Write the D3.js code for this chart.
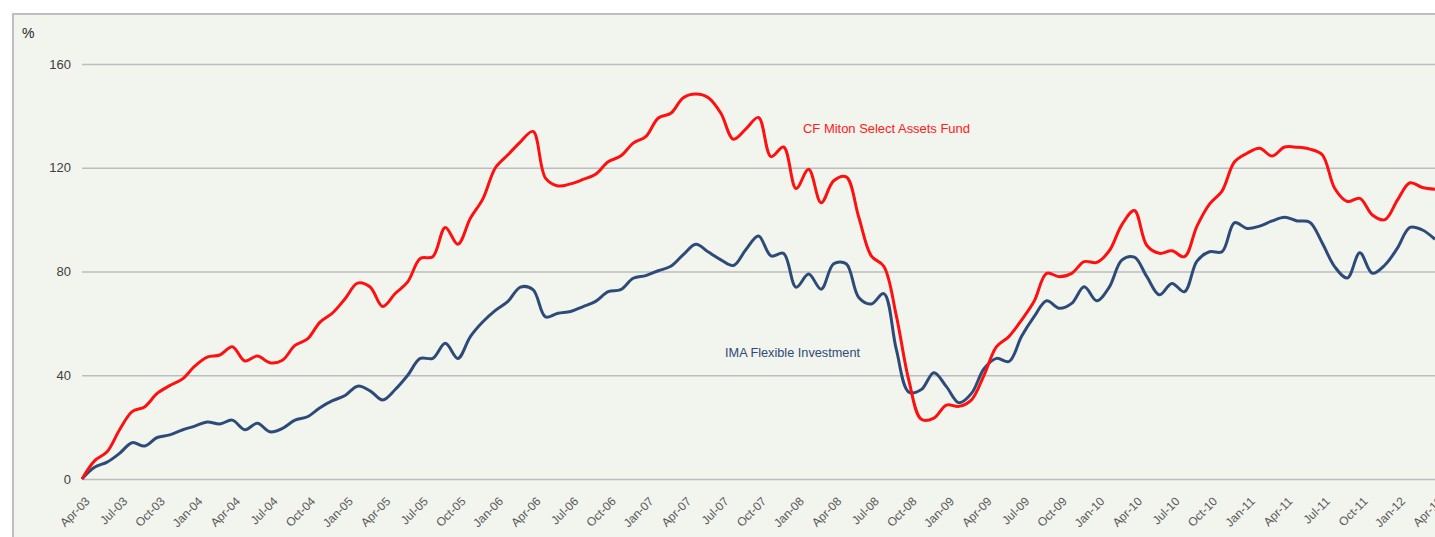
<!DOCTYPE html>
<html>
<head>
<meta charset="utf-8">
<script src="https://cdn.jsdelivr.net/npm/d3@7"></script>
<style>
  html, body { margin: 0; padding: 0; background: #ffffff; }
  svg { display: block; font-family: "Liberation Sans", Arial, sans-serif; }
</style>
</head>
<body>
<svg id="chart" width="1435" height="537"></svg>
<script>
// Quarterly tick labels (one every 3 months, starting Apr-03)
const tickLabels = ["Apr-03","Jul-03","Oct-03","Jan-04","Apr-04","Jul-04","Oct-04","Jan-05","Apr-05","Jul-05","Oct-05","Jan-06","Apr-06","Jul-06","Oct-06","Jan-07","Apr-07","Jul-07","Oct-07","Jan-08","Apr-08","Jul-08","Oct-08","Jan-09","Apr-09","Jul-09","Oct-09","Jan-10","Apr-10","Jul-10","Oct-10","Jan-11","Apr-11","Jul-11","Oct-11","Jan-12","Apr-12"];

const yTicks = [0, 40, 80, 120, 160];

// Monthly cumulative performance (%), Apr-03 .. Apr-12
const mitonFund = [
  0, 7, 10.5, 19, 26, 27.8, 33, 36, 38.5, 43.5, 47, 47.8,
  51, 45.5, 47.4, 44.8, 45.8, 51.5, 54, 60.5, 64, 69.5, 75.5, 74,
  66.5, 71.5, 76, 85, 85.7, 97, 90.5, 100.5, 108, 120, 125, 130,
  134, 116, 113, 113.8, 115.5, 117.5, 122.3, 124.5, 129.5, 132, 139.2, 141,
  147, 148.4, 147, 141, 131, 135, 139.4, 124.3, 128, 112, 119.4, 106.5,
  115, 116.5, 101, 86, 82, 63, 38, 23, 23.5, 28.5, 28, 30.5,
  40, 51, 55, 61.3, 68.5, 79.3, 78, 79.3, 83.8, 83.5, 88, 98,
  103.5, 90, 87, 88, 85.7, 97.5, 106, 111, 122.3, 125.6, 127.5, 124.5,
  128, 127.9, 127.2, 125, 112, 107, 108.2, 101.8, 100, 107.5, 114.2, 112.4,
  111.7
];

const imaFlexible = [
  0, 4.5, 6.5, 9.9, 14, 12.7, 16, 17, 18.9, 20.4, 22, 21.2,
  22.7, 19, 21.5, 18.2, 19.5, 22.7, 24, 27.5, 30.2, 32.2, 35.8, 34,
  30.5, 34.5, 40, 46.5, 46.5, 52.3, 46.5, 54.9, 60.6, 65, 68.5, 74,
  73, 62.5, 63.9, 64.6, 66.5, 68.5, 72.2, 73, 77.4, 78.4, 80.3, 82,
  86.5, 90.5, 87.5, 84.5, 82.3, 88.5, 93.7, 86, 87, 73.9, 79, 73.2,
  83, 83, 70, 67.5, 71.5, 50, 33.5, 34.5, 41, 35.6, 29.4, 33,
  42.5, 46.5, 45.3, 55, 62.6, 68.7, 65.8, 67.7, 74.1, 68.7, 74, 84.4,
  85.5, 78, 71, 75.4, 72.2, 84, 87.6, 87.6, 98.8, 96.6, 97.5, 99.5,
  100.9, 99.5, 99, 91, 81.8, 77.5, 87.2, 79.3, 82.5, 89, 97, 96,
  92.4
];

const seriesNames = ["CF Miton Select Assets Fund", "IMA Flexible Investment"];

const W = 1435, H = 537;
const svg = d3.select("#chart");

// frame / background
svg.append("rect").attr("x", 13).attr("y", 14).attr("width", W - 13 + 5).attr("height", H - 14 + 5)
  .attr("fill", "#f2f4ee").attr("stroke", "#bfbfbf").attr("stroke-width", 2);

const x = d3.scaleLinear().domain([0, mitonFund.length - 1]).range([82, 1435]);
const y = d3.scaleLinear().domain([0, 160]).range([479, 64]);

// gridlines
const grid = svg.append("g").attr("transform", "translate(82,0)")
  .call(d3.axisLeft(y).tickValues(yTicks).tickSize(-(1435 - 82)).tickFormat(""));
grid.select(".domain").remove();
grid.selectAll("line").attr("stroke", "#bdbdbd").attr("stroke-width", 1.6);

// y axis labels
const yAxis = svg.append("g").attr("transform", "translate(82,0)")
  .call(d3.axisLeft(y).tickValues(yTicks).tickSize(0).tickPadding(11));
yAxis.select(".domain").remove();
yAxis.selectAll("text").attr("fill", "#404040").style("font-size", "13px")
  .style("font-family", "'Liberation Sans', Arial, sans-serif");

svg.append("text").attr("x", 22).attr("y", 38).text("%")
  .attr("fill", "#262626").style("font-size", "14px");

// x axis labels
const xAxis = svg.append("g").attr("transform", "translate(0,479)")
  .call(d3.axisBottom(x).tickValues(d3.range(0, mitonFund.length, 3))
    .tickFormat((d, i) => tickLabels[i]).tickSize(0));
xAxis.select(".domain").remove();
xAxis.selectAll("text")
  .attr("fill", "#595959")
  .style("font-size", "12px")
  .style("font-family", "'Liberation Sans', Arial, sans-serif")
  .attr("text-anchor", "end")
  .attr("dy", "0.35em")
  .attr("transform", "translate(3,18) rotate(-45)");

// lines
const line = d3.line().x((d, i) => x(i)).y(d => y(d)).curve(d3.curveCatmullRom.alpha(0.5));

svg.append("path").datum(imaFlexible).attr("d", line)
  .attr("fill", "none").attr("stroke", "#2d4b78").attr("stroke-width", 3).attr("stroke-linejoin", "round");
svg.append("path").datum(mitonFund).attr("d", line)
  .attr("fill", "none").attr("stroke", "#ff1010").attr("stroke-width", 3).attr("stroke-linejoin", "round");

// series labels
svg.append("text").attr("x", 803).attr("y", 133).text(seriesNames[0])
  .attr("fill", "#ff2020").style("font-size", "13px").attr("textLength", 167).attr("lengthAdjust", "spacing");
svg.append("text").attr("x", 725).attr("y", 357).text(seriesNames[1])
  .attr("fill", "#2d4b78").style("font-size", "13px").attr("textLength", 135).attr("lengthAdjust", "spacingAndGlyphs");
</script>
</body>
</html>
